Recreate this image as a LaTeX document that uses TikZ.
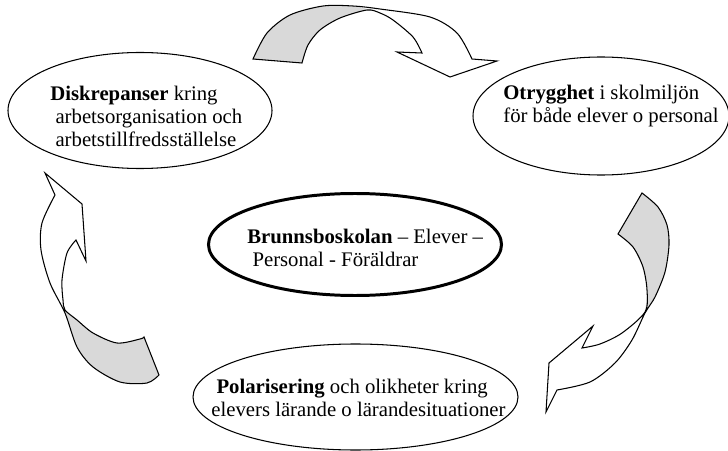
\documentclass[tikz,border=0pt]{standalone}
\usepackage{fontspec}
\setmainfont{Liberation Serif}
\usetikzlibrary{shapes.geometric}

\begin{document}
\begin{tikzpicture}[scale=0.2]
\tikzstyle{every node}+=[inner sep=0pt]
\tikzstyle{bubble}=[draw=black, ellipse, line width=0.6pt]
\tikzstyle{hub}=[bubble, line width=1.7pt]
\tikzstyle{blurb}=[anchor=north west, align=left, font=\fontsize{11.8}{13}\selectfont]
\tikzstyle{curlarrow}=[draw=black, line width=0.6pt, line join=miter]
\tikzstyle{backside}=[fill=black!15]
\useasboundingbox (0,0) rectangle (72.8,-45.1);
\node [bubble, minimum width=5.28cm, minimum height=2.32cm] (disk) at (14.0,-11.05) {};
\node [bubble, minimum width=5.12cm, minimum height=2.36cm] (otry) at (60.1,-11.6) {};
\node [hub, minimum width=5.86cm, minimum height=2.04cm] (brunns) at (35.5,-24.45) {};
\node [bubble, minimum width=6.5cm, minimum height=2.12cm] (polar) at (35.55,-39.7) {};
\node [blurb] (disktext) at (5.0,-8.6) {\textbf{Diskrepanser} kring\\\ arbetsorganisation och\\\ arbetstillfredsställelse};
\node [blurb] (otrytext) at (50.3,-8.5) {\textbf{Otrygghet} i skolmiljön\\för både elever o personal};
\node [blurb] (brunnstext) at (24.7,-22.9) {\textbf{Brunnsboskolan} – Elever –\\\ Personal - Föräldrar};
\node [blurb] (polartext) at (21.1,-37.9) {\ \textbf{Polarisering} och olikheter kring\\elevers lärande o lärandesituationer};
\fill [backside] plot[smooth] coordinates {(25.3,-5.9) (26.7,-3.3) (29.0,-1.5) (32.3,-0.6) (35.3,-0.6) (36.7,-0.9)} -- plot[smooth] coordinates {(36.7,-1.0) (34.0,-1.8) (32.0,-3.0) (30.8,-4.5) (30.2,-6.3)} -- cycle;
\draw [curlarrow] plot[smooth] coordinates {(25.3,-5.9) (26.7,-3.3) (29.0,-1.5) (32.3,-0.6) (35.3,-0.6) (38.0,-0.9) (43.0,-1.7) (45.7,-3.3) (47.2,-5.9)} -- (49.7,-6.1) -- (45.0,-7.7) -- (39.7,-5.2) -- (42.2,-5.3) -- plot[smooth] coordinates {(42.2,-5.3) (41.3,-3.7) (39.3,-2.0) (38.0,-1.3) (36.7,-1.0) (34.0,-1.8) (32.0,-3.0) (30.8,-4.5) (30.2,-6.3)} -- cycle;
\fill [backside] plot[smooth] coordinates {(64.2,-19.3) (65.8,-20.7) (66.7,-22.5) (66.9,-24.5) (66.5,-27.2) (65.5,-29.7) (64.5,-31.3)} -- plot[smooth] coordinates {(64.5,-31.2) (64.7,-29.0) (64.3,-26.7) (63.3,-24.7) (61.8,-23.4)} -- cycle;
\draw [curlarrow] plot[smooth] coordinates {(64.2,-19.3) (65.8,-20.7) (66.7,-22.5) (66.9,-24.5) (66.5,-27.2) (65.5,-29.7) (64.5,-31.3) (63.2,-34.0) (61.5,-36.3) (59.0,-38.2) (55.7,-39.0)} -- (54.6,-41.2) -- (54.9,-36.3) -- (59.3,-32.6) -- (58.2,-34.8) -- plot[smooth] coordinates {(58.2,-34.8) (60.0,-34.4) (62.2,-33.3) (64.5,-31.2) (64.7,-29.0) (64.3,-26.7) (63.3,-24.7) (61.8,-23.4)} -- cycle;
\fill [backside] plot[smooth] coordinates {(15.9,-37.5) (14.7,-38.3) (12.0,-38.2) (9.3,-36.7) (7.7,-34.7) (6.5,-31.3)} -- plot[smooth] coordinates {(6.5,-31.0) (7.7,-32.0) (9.3,-33.3) (11.7,-34.3) (14.0,-33.9) (14.4,-33.7)} -- cycle;
\draw [curlarrow] plot[smooth] coordinates {(15.9,-37.5) (14.7,-38.3) (12.0,-38.2) (9.3,-36.7) (7.7,-34.7) (6.5,-31.3) (5.0,-28.3) (4.1,-25.0) (4.2,-22.3) (5.5,-19.5)} -- (4.5,-17.3) -- (8.2,-20.4) -- (8.6,-26.1) -- (7.6,-24.0) -- plot[smooth] coordinates {(7.6,-24.0) (6.7,-25.3) (6.2,-28.0) (6.3,-30.0) (6.5,-31.0) (7.7,-32.0) (9.3,-33.3) (11.7,-34.3) (14.0,-33.9) (14.4,-33.7)} -- cycle;
\end{tikzpicture}
\end{document}
